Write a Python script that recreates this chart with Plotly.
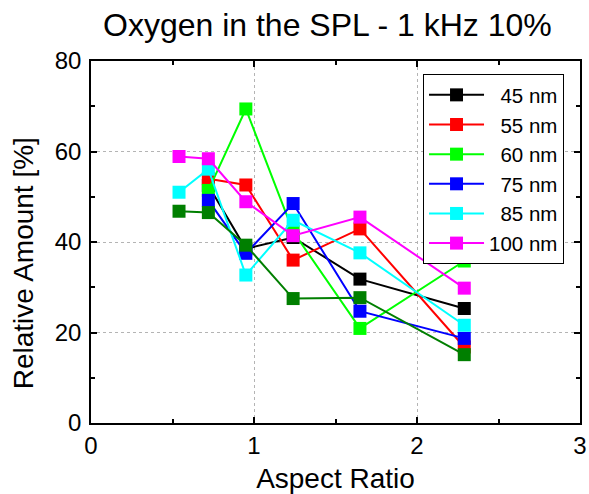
import plotly.graph_objects as go

# ---- data ----
x5 = [0.72, 0.95, 1.24, 1.65, 2.29]
x6 = [0.54, 0.72, 0.95, 1.24, 1.65, 2.29]

y45 = [52.5, 38.5, 41.0, 31.8, 25.3]
y55 = [54.0, 52.6, 36.0, 42.9, 16.8]
y60 = [51.4, 69.4, 42.3, 20.9, 35.8]
y75 = [49.2, 37.5, 48.5, 24.7, 18.7]
y85 = [51.0, 56.1, 32.7, 44.8, 37.6, 21.6]
y100 = [58.9, 58.4, 48.9, 41.4, 45.5, 29.8]
y_extra = [46.8, 46.5, 39.3, 27.5, 27.7, 15.1]

NB = "\u00a0\u00a0"  # pad to right-align legend labels
series = [
    (NB + "45 nm", x5, y45, "#000000", True),
    (NB + "55 nm", x5, y55, "#ff0000", True),
    (NB + "60 nm", x5, y60, "#00ff00", True),
    (NB + "75 nm", x5, y75, "#0000ff", True),
    (NB + "85 nm", x6, y85, "#00ffff", True),
    ("100 nm", x6, y100, "#ff00ff", True),
    ("", x6, y_extra, "#007f00", False),
]

fig = go.Figure()
for name, xs, ys, col, show in series:
    fig.add_trace(go.Scatter(
        x=xs, y=ys, name=name, mode="lines+markers",
        line=dict(color=col, width=2),
        marker=dict(symbol="square", size=13, color=col, line=dict(width=0)),
        showlegend=show,
    ))

font = "Liberation Sans, Arial, sans-serif"
axis_common = dict(
    showline=True, linecolor="black", linewidth=1.5, mirror="ticks",
    ticks="inside", ticklen=6, tickwidth=1.5, tickcolor="black",
    showgrid=True, gridcolor="#b4b4b4", griddash="dot", gridwidth=1,
    zeroline=False, automargin=False,
    tickfont=dict(family=font, size=24, color="black"),
)

fig.update_layout(
    width=589, height=494,
    margin=dict(l=90.5, r=9, t=61, b=71.3),
    paper_bgcolor="white", plot_bgcolor="white",
    title=dict(text="Oxygen in the SPL - 1 kHz 10%", x=327.4 / 589, xref="container",
               xanchor="center", y=0.949, yref="container", yanchor="middle",
               font=dict(family=font, size=32, color="black")),
    xaxis=dict(range=[0, 3], dtick=1, tick0=0,
               minor=dict(dtick=0.5, ticks="inside", ticklen=4, tickcolor="black", showgrid=False),
               title=dict(text="Aspect Ratio", standoff=17,
                          font=dict(family=font, size=28, color="black")),
               **axis_common),
    yaxis=dict(range=[0, 80], dtick=20, tick0=0, ticklabelstandoff=3,
               minor=dict(dtick=10, ticks="inside", ticklen=4, tickcolor="black", showgrid=False),
               **axis_common),
    legend=dict(x=0.679, y=0.964, xanchor="left", yanchor="top",
                bgcolor="white", bordercolor="black", borderwidth=1,
                font=dict(family=font, size=20.5, color="black"),
                tracegroupgap=0, itemwidth=55),
    annotations=[dict(
        text="Relative Amount [%]", textangle=-90, showarrow=False,
        xref="paper", yref="paper", x=(22.5 - 90.5) / 489.5, y=0.4415,
        xanchor="center", yanchor="middle",
        font=dict(family=font, size=28, color="black"),
    )],
)

fig.write_html("out.html", config={"displayModeBar": False},
               post_script="document.body.style.margin='0';document.body.style.overflow='hidden';")
